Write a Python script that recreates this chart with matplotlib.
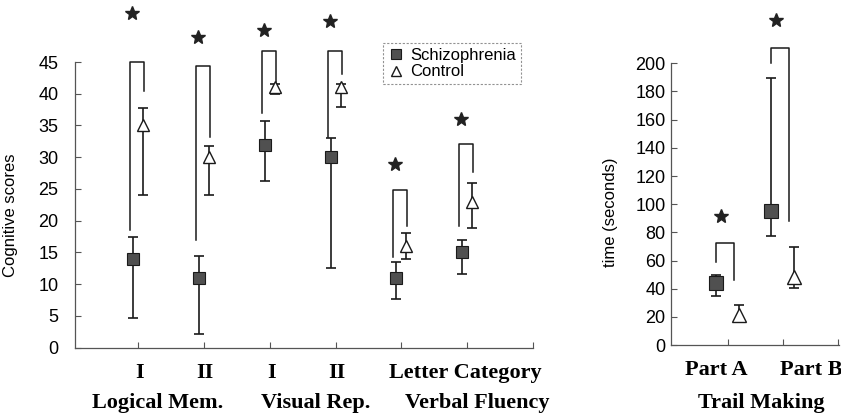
import matplotlib
matplotlib.use("Agg")
import matplotlib.pyplot as plt
import numpy as np

# ---- cognitive tests (left panel) ----
tests = ["I", "II", "I", "II", "Letter", "Category"]
groups = ["Logical Mem.", "Visual Rep.", "Verbal Fluency"]
schiz_mean = [14, 11, 32, 30, 11, 15]
schiz_low = [4.6, 2.2, 26.3, 12.5, 7.7, 11.6]
schiz_high = [17.5, 14.4, 35.7, 33.1, 13.5, 17.0]
ctrl_mean = [35, 30, 41, 41, 16, 23]
ctrl_low = [24.0, 24.0, 40.0, 37.9, 14.0, 18.9]
ctrl_high = [37.8, 31.8, 41.5, 41.5, 18.0, 26.0]
# significance brackets: top, bottom of left leg, bottom of right leg, star height
brk_top = [45, 44.3, 46.7, 46.8, 24.8, 32.1]
brk_left = [18.5, 17.0, 36.9, 33.2, 14.3, 19.1]
brk_right = [40.5, 33.2, 41.9, 43.1, 19.1, 27.6]
star_y = [52.7, 48.9, 50.1, 51.5, 29.0, 36.1]

# ---- trail making (right panel) ----
parts = ["Part A", "Part B"]
tm_schiz_mean = [44, 95]
tm_schiz_low = [34.8, 77.4]
tm_schiz_high = [49.7, 189.8]
tm_ctrl_mean = [21, 48]
tm_ctrl_low = [18.0, 40.2]
tm_ctrl_high = [28.4, 69.8]
tm_brk_top = [72.2, 211.1]
tm_brk_left = [59.2, 200.0]
tm_brk_right = [46.1, 88.3]
tm_star_y = [91.6, 230.8]

SANS = "Liberation Sans"
SERIF = "Liberation Serif"
SQ_FACE = "#505050"
INK = "#1a1a1a"
AX_COL = "#555555"
LABEL_SIZE = 16

fig = plt.figure(figsize=(8.41, 4.15), dpi=100)
axL = fig.add_axes([75 / 841, (415 - 347.7) / 415, 458 / 841, 346 / 415])
axR = fig.add_axes([671 / 841, (415 - 345) / 415, 168 / 841, 338 / 415])


def style_axis(ax, ytop, yticks, pad):
    for s in ("top", "right"):
        ax.spines[s].set_visible(False)
    for s in ("left", "bottom"):
        ax.spines[s].set_color(AX_COL)
        ax.spines[s].set_linewidth(0.9)
    ax.spines["left"].set_bounds(0, ytop)
    ax.set_yticks(yticks)
    ax.tick_params(axis="both", direction="in", length=4, width=0.8, color=AX_COL)
    ax.tick_params(axis="y", pad=pad, labelsize=13)
    for t in ax.get_yticklabels():
        t.set_family(SANS)
    ax.set_xticklabels([])


def draw_panel(ax, x, sm, sl, sh, cm, cl, ch, off, ms_sq, ms_tri):
    x = np.asarray(x, dtype=float)
    sm, sl, sh = map(np.asarray, (sm, sl, sh))
    cm, cl, ch = map(np.asarray, (cm, cl, ch))
    ax.errorbar(x - off, sm, yerr=[sm - sl, sh - sm], fmt="none", ecolor=INK,
                elinewidth=1.2, capsize=3.5, capthick=1.2, zorder=2)
    ax.errorbar(x + off, cm, yerr=[cm - cl, ch - cm], fmt="none", ecolor=INK,
                elinewidth=1.2, capsize=3.5, capthick=1.2, zorder=2)
    ax.plot(x - off, sm, "s", ms=ms_sq, mfc=SQ_FACE, mec=INK, mew=0.8,
            ls="none", zorder=3, label="Schizophrenia")
    ax.plot(x + off, cm, "^", ms=ms_tri, mfc="white", mec=INK, mew=1.0,
            ls="none", zorder=3, label="Control")


def draw_brackets(ax, x, top, lb, rb, sy, dl, dr, ds):
    for xi, t, l, r, s in zip(x, top, lb, rb, sy):
        ax.plot([xi + dl, xi + dl, xi + dr, xi + dr], [l, t, t, r],
                color=INK, lw=1.1, zorder=2)
        ax.plot(xi + ds, s, marker="*", ms=10.5, color="#222222", ls="none",
                clip_on=False, zorder=4)


def under_label(ax, text, xp, dy):
    ax.annotate(text, xy=(xp, 0), xycoords=("data", "axes fraction"),
                xytext=(0, -dy), textcoords="offset pixels", ha="center",
                va="center", family=SERIF, weight="bold", fontsize=LABEL_SIZE)


# left panel
xl = np.arange(1, len(tests) + 1)
axL.set_xlim(0.04, 7.0)
axL.set_ylim(0, 54.5)
axL.set_xticks(list(xl) + [7])
style_axis(axL, 45, np.arange(0, 50, 5), 12)
draw_panel(axL, xl, schiz_mean, schiz_low, schiz_high,
           ctrl_mean, ctrl_low, ctrl_high, 0.076, 8, 8.5)
draw_brackets(axL, xl, brk_top, brk_left, brk_right, star_y, -0.12, 0.09, -0.09)
axL.set_ylabel("Cognitive scores", family=SANS, fontsize=12)
axL.yaxis.set_label_coords(-0.124, 0.383)

# test labels under the left axis
for lab, xp in zip(tests[:4], xl[:4]):
    under_label(axL, lab, xp + 0.02, 25)
under_label(axL, tests[4] + " " + tests[5], 5.97, 25)
for lab, xp in zip(groups, [1.30, 3.70, 6.15]):
    under_label(axL, lab, xp, 55)

leg = axL.legend(loc="upper left", bbox_to_anchor=(383 / 841, 1 - 42.7 / 415),
                 bbox_transform=fig.transFigure, prop={"family": SANS, "size": 12},
                 frameon=True, fancybox=False, handlelength=0.9,
                 handletextpad=0.45, borderpad=0.3, labelspacing=0.1,
                 borderaxespad=0, markerscale=0.9)
fr = leg.get_frame()
fr.set_edgecolor("#777777")
fr.set_linewidth(0.8)
fr.set_linestyle((0, (2, 1.5)))

# right panel
xr = np.arange(1, len(parts) + 1)
axR.set_xlim(-0.03, 3.02)
axR.set_ylim(0, 240)
axR.set_xticks(list(xr) + [3])
style_axis(axR, 200, np.arange(0, 220, 20), 4)
draw_panel(axR, xr, tm_schiz_mean, tm_schiz_low, tm_schiz_high,
           tm_ctrl_mean, tm_ctrl_low, tm_ctrl_high, 0.21, 9.5, 10)
draw_brackets(axR, xr, tm_brk_top, tm_brk_left, tm_brk_right, tm_star_y,
              -0.22, 0.12, -0.12)
axR.set_ylabel("time (seconds)", family=SANS, fontsize=12)
axR.yaxis.set_label_coords(-0.315, 0.393)
for lab, xp in zip(parts, [0.80, 2.51]):
    under_label(axR, lab, xp, 25)
under_label(axR, "Trail Making", 1.61, 58)

fig.savefig("out.png", dpi=100)
